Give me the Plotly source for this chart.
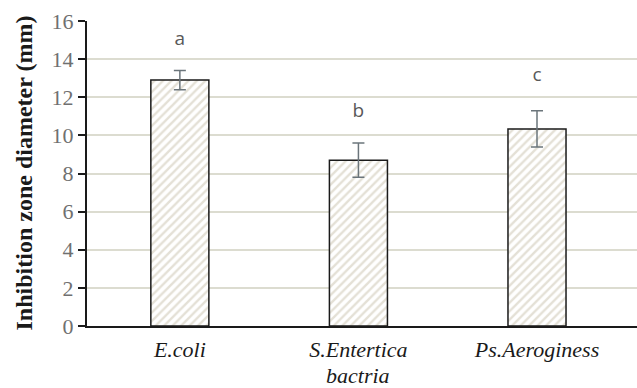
import plotly.graph_objects as go

categories = ["<i>E.coli</i>", "<i>S.Entertica</i>", "<i>Ps.Aeroginess</i>"]
second_line = ["", "<i>bactria</i>", ""]
values = [12.9, 8.7, 10.34]
errors = [0.5, 0.9, 0.95]
letters = ["a", "b", "c"]
letter_y = [15.0, 11.2, 13.1]
y_ticks = [0, 2, 4, 6, 8, 10, 12, 14, 16]

fig = go.Figure()
fig.add_trace(go.Bar(
    x=[0, 1, 2], y=values, width=0.325,
    marker=dict(color="white", line=dict(color="#1a1a1a", width=1.5),
                pattern=dict(shape="/", fgcolor="#c9c2ad", bgcolor="white", size=6, solidity=0.4)),
    error_y=dict(type="data", array=errors, visible=True, color="#6b757b", thickness=1.5, width=6),
    showlegend=False,
))
fig.add_trace(go.Scatter(
    x=[0, 1, 2], y=letter_y, mode="text", text=letters,
    textfont=dict(family="Open Sans, Liberation Sans", size=19, color="#595959"),
    showlegend=False,
))
for i, t in enumerate(second_line):
    if t:
        fig.add_annotation(
            text=t, x=i, xref="x", yref="paper", y=0, yshift=-62.5, yanchor="bottom",
            showarrow=False, borderpad=0,
            font=dict(family="Liberation Serif", size=22, color="#1a1a1a"),
        )
fig.add_annotation(
    text="<b>Inhibition zone diameter (mm)</b>", xref="paper", yref="paper",
    x=0, y=0.5, xshift=-64, xanchor="center", yanchor="middle", textangle=-90,
    showarrow=False, font=dict(family="Liberation Serif", size=24, color="#1a1a1a"),
)
fig.update_layout(
    width=637, height=388,
    margin=dict(l=87, r=0, t=21, b=62),
    plot_bgcolor="white", paper_bgcolor="white",
    xaxis=dict(range=[-0.52, 2.56], tickvals=[0, 1, 2], ticktext=categories,
               showline=True, linecolor="#1a1a1a", linewidth=2, showgrid=False,
               ticks="", zeroline=False, automargin=False, ticklabelstandoff=3,
               tickfont=dict(family="Liberation Serif", size=22, color="#1a1a1a")),
    yaxis=dict(range=[0, 16], tickvals=y_ticks, showline=True, linecolor="#1a1a1a", linewidth=2,
               ticks="outside", ticklen=7, tickcolor="#1a1a1a", tickwidth=1.5,
               showgrid=True, gridcolor="#dcdcd0", gridwidth=1.5, zeroline=False, automargin=False,
               tickfont=dict(family="Liberation Serif", size=22, color="#707070")),
)
fig.write_html("out.html", config={"displayModeBar": False},
               post_script="document.body.style.margin='0';document.body.style.overflow='hidden';")
